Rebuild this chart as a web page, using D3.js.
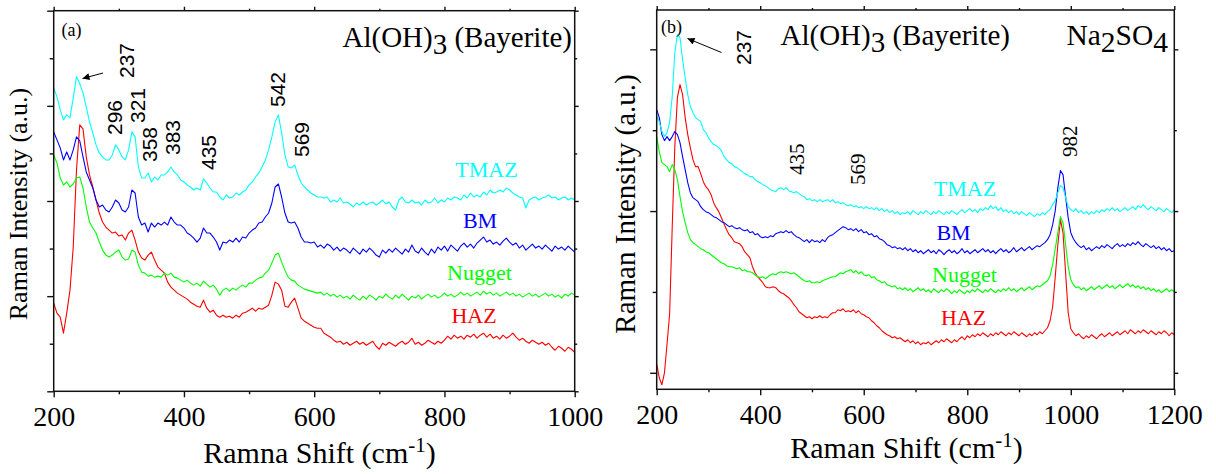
<!DOCTYPE html>
<html>
<head>
<meta charset="utf-8">
<script src="https://cdn.jsdelivr.net/npm/d3@7"></script>
<style>
  html, body { margin: 0; padding: 0; background: #fff; }
  svg { display: block; }
</style>
</head>
<body>
<svg id="chart" width="1216" height="474"></svg>
<script>
// Raman shift sampling grids (cm^-1)
const shiftA = d3.range(200, 1001, 5);
const shiftB = d3.range(200, 1201, 5);

// Panel (a): Al(OH)3 bayerite spectra, offset-stacked intensities (a.u.)
const tmazA = [
  303, 294, 281, 271, 276, 273, 293, 314, 307, 298,
  284, 269, 258, 246, 238, 234, 231, 231, 236, 246,
  241, 234, 231, 241, 259, 254, 224, 213, 213, 218,
  209, 214, 211, 216, 216, 219, 224, 219, 216, 211,
  209, 206, 204, 201, 203, 201, 212, 208, 203, 199,
  199, 194, 191, 196, 193, 194, 198, 196, 199, 201,
  206, 209, 214, 218, 224, 231, 241, 254, 269, 276,
  258, 236, 224, 223, 226, 216, 208, 204, 201, 198,
  196, 194,
  194, 193, 194, 189, 191, 189, 193, 188, 189, 187,
  184, 188, 186, 189, 186, 188, 189, 186, 188, 191,
  187, 189, 184, 181, 191, 194, 189, 188, 191, 188,
  189, 186, 191, 188, 189, 193, 188, 191, 189, 193,
  191, 194, 193, 191, 196, 193, 198, 194, 196, 194,
  199, 196, 201, 198, 199, 201, 199, 203, 201, 198,
  196, 194, 193, 183, 191, 193, 194, 191, 193, 194,
  196, 193, 194, 191, 193, 194, 191, 193, 191
];
const bmA = [
  259, 251, 243, 231, 239, 231, 241, 254, 250, 234,
  219, 211, 203, 191, 184, 186, 181, 179, 184, 191,
  188, 181, 179, 184, 201, 198, 174, 166, 168, 159,
  168, 164, 168, 166, 169, 166, 174, 169, 166, 166,
  163, 158, 156, 153, 149, 153, 163, 158, 158, 154,
  149, 141, 149, 148, 151, 149, 153, 149, 154, 153,
  158, 161, 163, 168, 169, 174, 178, 188, 204, 207,
  194, 178, 169, 168, 169, 163, 154, 149, 149, 148,
  149, 144,
  146, 143, 147, 145, 141, 144, 140, 143, 141, 138,
  143, 140, 137, 142, 139, 143, 140, 136, 134, 141,
  138, 142, 139, 143, 140, 137, 142, 139, 146, 140,
  138, 143, 139, 136, 142, 138, 144, 141, 145, 140,
  146, 143, 140, 145, 148, 144, 147, 143, 148, 151,
  154, 149, 151, 147, 149, 146, 150, 153, 149, 146,
  148, 143, 146, 141, 144, 147, 143, 145, 142, 146,
  143, 140, 145, 142, 144, 141, 145, 142, 139
];
const nuggetA = [
  236, 228, 213, 206, 209, 204, 207, 213, 214, 203,
  184, 169, 163, 158, 149, 141, 136, 134, 136, 139,
  141, 134, 131, 132, 141, 139, 126, 119, 118, 115,
  116, 114, 115, 114, 118, 116, 118, 114, 113, 111,
  109, 111, 108, 106, 108, 105, 110, 107, 104, 106,
  102, 96, 101, 103, 100, 103, 101, 104, 106, 104,
  108, 108, 111, 113, 114, 118, 121, 128, 136, 138,
  129, 121, 114, 111, 110, 106, 104, 102, 101, 100,
  99, 98,
  99, 96, 98, 95, 97, 94, 96, 93, 95, 92,
  96, 93, 91, 95, 92, 96, 94, 91, 95, 93,
  97, 94, 92, 96, 93, 97, 94, 91, 95, 93,
  96, 92, 95, 97, 94, 96, 93, 95, 98, 95,
  97, 94, 96, 99, 96, 98, 95, 97, 99, 96,
  100, 97, 99, 96, 98, 95, 97, 99, 96, 98,
  95, 97, 94, 96, 98, 95, 97, 94, 96, 98,
  95, 97, 94, 96, 93, 97, 95, 98, 96
];
const hazA = [
  88, 78, 74, 58, 78, 101, 144, 221, 266, 262,
  234, 216, 204, 191, 178, 169, 164, 161, 158, 159,
  155, 156, 151, 158, 161, 151, 139, 133, 131, 136,
  139, 131, 124, 121, 118, 109, 104, 101, 98, 96,
  94, 92, 89, 87, 85, 84, 91, 83, 79, 81,
  76, 74, 76, 74, 75, 73, 76, 74, 78, 79,
  81, 83, 80, 83, 82, 84, 86, 96, 109, 107,
  101, 85, 84, 89, 93, 83, 73, 70, 68, 66,
  64, 63,
  63, 58, 56, 54, 51, 49, 50, 47, 49, 46,
  48, 50, 47, 49, 46, 48, 50, 45, 42, 48,
  46, 49, 47, 45, 48, 50, 47, 49, 53, 47,
  49, 46, 48, 51, 49, 47, 50, 48, 51, 55,
  52, 56, 53, 55, 52, 56, 54, 57, 53, 56,
  58, 54, 57, 53, 55, 52, 56, 53, 55, 58,
  54, 51, 53, 50, 48, 51, 49, 47, 49, 46,
  48, 44, 41, 45, 43, 40, 44, 42, 39
];

// Panel (b): Al(OH)3 bayerite + Na2SO4 spectra, offset-stacked intensities (a.u.)
const tmazB = [
  256, 251, 241, 236, 240, 250, 276, 320, 338, 335,
  313, 295, 278, 266, 260, 255, 253, 251, 243, 240,
  235, 231, 228, 227, 225, 222, 216, 213, 210, 209,
  206, 205, 203, 201, 199, 198, 196, 196, 193, 191,
  190, 188, 187, 185, 183, 182, 181, 184, 185, 183,
  185, 182, 181, 180, 181, 179, 177, 176, 173, 174,
  172, 173, 171, 173, 171, 172, 173, 171, 173, 170,
  171, 169, 170, 168, 167,
  168, 166, 167, 165, 166,
  164, 166, 164, 165, 163, 165, 162, 164, 161, 163,
  160, 162, 159, 161, 158, 160, 159, 161, 158, 162,
  160, 158, 161, 159, 162, 160, 158, 161, 159, 162,
  160, 158, 161, 159, 162, 160, 158, 161, 163, 160,
  162, 164, 161, 163, 160, 164, 162, 165, 163, 167,
  164, 166, 162, 165, 161, 163, 160, 162, 159, 161,
  158, 161, 159, 157, 160, 158, 156, 159, 157, 160,
  158, 161, 163, 168, 172, 180, 187, 185, 175, 166,
  163, 161, 164, 160, 162, 159, 161, 158, 161, 159,
  162, 160, 163, 161, 164, 162, 165, 162, 164, 161,
  163, 165, 162, 164, 166, 163, 167, 165, 168, 165,
  163, 166, 164, 162, 165, 163, 161, 164, 162, 160,
  163
];
const bmB = [
  263, 255, 238, 232, 236, 232, 236, 241, 238, 230,
  216, 203, 190, 180, 175, 173, 171, 166, 163, 161,
  160, 158, 156, 155, 153, 151, 150, 148, 146, 147,
  145, 144, 145, 143, 142, 143, 140, 141, 138, 139,
  136, 135, 136, 135, 137, 136, 139, 140, 141, 140,
  142, 140, 141, 138, 136, 135, 133, 131, 133, 130,
  133, 131, 132, 130, 133, 131, 135, 137, 138, 140,
  142, 144, 146, 145, 143,
  144, 142, 144, 141, 143,
  140, 141, 138, 139, 136, 137, 134, 133, 131, 128,
  127, 125, 126, 124, 125, 123, 125, 122, 124, 121,
  123, 120, 122, 119, 121, 123, 120, 122, 119, 123,
  121, 118, 121, 123, 120, 122, 119, 121, 124, 120,
  122, 119, 121, 123, 120, 122, 124, 121, 123, 120,
  122, 119, 122, 124, 121, 123, 120, 122, 125, 121,
  123, 125, 122, 124, 126, 123, 125, 127, 126, 128,
  130, 133, 138, 148, 162, 185, 202, 198, 176, 155,
  140, 134, 130, 127, 125, 127, 123, 125, 122, 124,
  126, 124, 127, 125, 128, 126, 124, 127, 129, 126,
  128, 126, 129, 127, 130, 128, 131, 128, 126, 129,
  127, 125, 127, 124, 126, 123, 125, 122, 124, 121,
  122
];
const nuggetB = [
  236, 221, 210, 208, 206, 201, 208, 203, 193, 176,
  161, 150, 140, 133, 130, 128, 126, 124, 123, 121,
  120, 118, 116, 114, 112, 110, 109, 107, 106, 106,
  105, 104, 105, 102, 103, 101, 101, 100, 98, 96,
  95, 96, 94, 96, 98, 99, 98, 100, 101, 100,
  101, 100, 99, 100, 98, 96, 94, 92, 91, 92,
  90, 90, 91, 90, 92, 93, 94, 95, 96, 96,
  98, 100, 99, 101, 102,
  103, 100, 102, 99, 101,
  98, 97, 98, 95, 96, 93, 92, 90, 91, 88,
  87, 86, 87, 84, 85, 83, 85, 82, 84, 81,
  83, 85, 82, 84, 81, 83, 80, 84, 82, 80,
  83, 81, 84, 82, 79, 82, 80, 83, 81, 79,
  82, 80, 83, 81, 84, 82, 80, 83, 81, 84,
  82, 80, 83, 81, 84, 82, 85, 82, 84, 81,
  83, 85, 82, 84, 86, 83, 85, 87, 86, 88,
  90, 92, 97, 108, 124, 140, 156, 150, 128, 106,
  93, 88, 85, 86, 83, 85, 82, 84, 86, 83,
  85, 87, 84, 86, 88, 85, 87, 84, 86, 88,
  85, 87, 89, 86, 88, 85, 87, 84, 86, 83,
  85, 82, 84, 81, 83, 80, 82, 84, 81, 83,
  81
];
const hazB = [
  9, -5, -12, 0, 29, 59, 146, 226, 275, 288,
  278, 255, 238, 225, 213, 206, 206, 199, 191, 186,
  183, 178, 170, 165, 161, 155, 149, 143, 138, 135,
  131, 130, 129, 126, 121, 118, 115, 106, 100, 96,
  93, 90, 86, 85, 85, 86, 85, 82, 80, 79,
  77, 75, 72, 68, 65, 61, 59, 57, 55, 56,
  54, 56, 55, 57, 55, 56, 55, 58, 60, 60,
  63, 62, 64, 61, 62,
  61, 63, 60, 62, 59,
  58, 56, 55, 52, 50, 47, 45, 42, 40, 38,
  37, 35, 36, 34, 35, 33, 31, 33, 30, 32,
  29, 31, 28, 30, 29, 31, 28, 30, 32, 30,
  33, 31, 34, 32, 30, 33, 31, 34, 36, 33,
  37, 35, 38, 36, 39, 37, 40, 38, 36, 39,
  37, 40, 38, 41, 39, 37, 40, 38, 41, 39,
  37, 40, 38, 36, 39, 37, 40, 38, 41, 39,
  42, 45, 52, 66, 96, 128, 153, 140, 100, 60,
  44, 40, 37, 39, 36, 34, 37, 35, 38, 36,
  34, 37, 39, 36, 38, 40, 37, 39, 41, 38,
  40, 42, 39, 43, 41, 39, 42, 40, 43, 41,
  39, 42, 40, 38, 41, 39, 42, 40, 37, 40,
  38
];

// Sample names and the colour used for each trace
const sampleNames = ["TMAZ", "BM", "Nugget", "HAZ"];
const sampleColors = ["#00ffff", "#0000ff", "#00ff00", "#ff0000"];

// Axis ticks
const xMajorA = [200, 400, 600, 800, 1000];
const xMinorA = [300, 500, 700, 900];
const xMajorB = [200, 400, 600, 800, 1000, 1200];
const xMinorB = [300, 500, 700, 900, 1100];

// Peak assignments (cm^-1) written above the traces
const peaksA = ["237", "296", "321", "358", "383", "435", "542", "569"];
const peaksB = ["237", "435", "569", "982"];

const serif = "'Liberation Serif', 'Times New Roman', serif";
const sans = "'Liberation Sans', Arial, sans-serif";

const svg = d3.select("#chart");

svg.append("defs").append("marker")
  .attr("id", "arrowhead")
  .attr("viewBox", "0 0 10 10")
  .attr("refX", 10).attr("refY", 5)
  .attr("markerWidth", 9).attr("markerHeight", 7)
  .attr("markerUnits", "userSpaceOnUse")
  .attr("orient", "auto")
  .append("path").attr("d", "M0,0 L10,5 L0,10 Z").attr("fill", "#000");

const panels = [
  {
    shift: shiftA, series: [tmazA, bmA, nuggetA, hazA],
    x: d3.scaleLinear().domain([200, 1000]).range([53.7, 574.7]),
    y: d3.scaleLinear().domain([0, 380]).range([391.3, 10.7]),
    yTicks: d3.range(0, 381, 47.5),
    xMajor: xMajorA, xMinor: xMinorA
  },
  {
    shift: shiftB, series: [tmazB, bmB, nuggetB, hazB],
    x: d3.scaleLinear().domain([200, 1200]).range([656.7, 1174.3]),
    y: d3.scaleLinear().domain([-16.5, 362.5]).range([389.3, 10]),
    yTicks: d3.range(0, 362, 80.8),
    xMajor: xMajorB, xMinor: xMinorB
  }
];

panels.forEach(p => {
  const [x0, x1] = p.x.range();
  const [y0, y1] = p.y.range();
  const g = svg.append("g");

  // clip traces to the plot frame
  const clipId = "clip" + Math.round(x0);
  svg.select("defs").append("clipPath").attr("id", clipId)
    .append("rect").attr("x", x0).attr("y", y1).attr("width", x1 - x0).attr("height", y0 - y1);

  const line = d3.line().x((d, i) => p.x(p.shift[i])).y(d => p.y(d));
  const traces = g.append("g").attr("clip-path", `url(#${clipId})`);
  // draw bottom trace first so the upper ones sit on top
  p.series.slice().reverse().forEach((s, k) => {
    const idx = p.series.length - 1 - k;
    traces.append("path")
      .attr("d", line(s))
      .attr("fill", "none")
      .attr("stroke", sampleColors[idx])
      .attr("stroke-width", 1.1)
      .attr("stroke-linejoin", "round");
  });

  // bottom axis with labels
  const bottom = g.append("g").attr("transform", `translate(0,${y0})`);
  bottom.call(d3.axisBottom(p.x).tickValues(p.xMajor).tickSize(6).tickFormat(d3.format("d")))
    .call(a => a.select(".domain").remove());
  bottom.append("g").call(d3.axisBottom(p.x).tickValues(p.xMinor).tickSize(3).tickFormat(""))
    .call(a => a.select(".domain").remove());
  bottom.selectAll("text")
    .attr("font-family", serif).attr("font-size", 28).attr("fill", "#000")
    .attr("dy", null).attr("y", 35);

  // top mirror ticks
  const top = g.append("g").attr("transform", `translate(0,${y1})`);
  top.call(d3.axisTop(p.x).tickValues(p.xMajor).tickSize(4).tickFormat(""))
    .call(a => a.select(".domain").remove());
  top.append("g").call(d3.axisTop(p.x).tickValues(p.xMinor).tickSize(2).tickFormat(""))
    .call(a => a.select(".domain").remove());

  // left and right unlabelled intensity ticks (alternating long/short)
  const yMajor = p.yTicks.filter((d, i) => i % 2 === 0);
  const yMinor = p.yTicks.filter((d, i) => i % 2 === 1);
  const left = g.append("g").attr("transform", `translate(${x0},0)`);
  left.call(d3.axisLeft(p.y).tickValues(yMajor).tickSize(6.5).tickFormat(""))
    .call(a => a.select(".domain").remove());
  left.append("g").call(d3.axisLeft(p.y).tickValues(yMinor).tickSize(4).tickFormat(""))
    .call(a => a.select(".domain").remove());
  const right = g.append("g").attr("transform", `translate(${x1},0)`);
  right.call(d3.axisRight(p.y).tickValues(yMajor).tickSize(4).tickFormat(""))
    .call(a => a.select(".domain").remove());
  right.append("g").call(d3.axisRight(p.y).tickValues(yMinor).tickSize(2.5).tickFormat(""))
    .call(a => a.select(".domain").remove());

  g.selectAll(".tick line").attr("stroke", "#111").attr("stroke-width", 1.4);

  // plot frame
  g.append("rect")
    .attr("x", x0).attr("y", y1).attr("width", x1 - x0).attr("height", y0 - y1)
    .attr("fill", "none").attr("stroke", "#111").attr("stroke-width", 1.5);
});

// ---- text helpers ----
function label(x, y, text, opts = {}) {
  return svg.append("text")
    .attr("x", x).attr("y", y)
    .attr("font-family", opts.family || serif)
    .attr("font-size", opts.size || 22)
    .attr("fill", opts.color || "#000")
    .attr("text-anchor", opts.anchor || "start")
    .text(text);
}
function vlabel(x, y, text, opts = {}) {
  return svg.append("text")
    .attr("transform", `translate(${x},${y}) rotate(-90)`)
    .attr("font-family", opts.family || sans)
    .attr("font-size", opts.size || 21)
    .attr("fill", opts.color || "#000")
    .attr("text-anchor", opts.anchor || "start")
    .text(text);
}
function formula(sel, parts, drop) {
  // parts: [text, isSubscript]
  let shifted = 0;
  parts.forEach(([t, sub]) => {
    const want = sub ? drop : 0;
    sel.append("tspan").attr("dy", want - shifted).text(t);
    shifted = want;
  });
  return sel;
}
function titleText(x, y, anchor, size, parts) {
  const t = svg.append("text").attr("x", x).attr("y", y)
    .attr("font-family", serif).attr("font-size", size)
    .attr("text-anchor", anchor).attr("fill", "#000");
  return formula(t, parts, 7);
}

// ---- panel (a) annotations ----
label(61.5, 36, "(a)", { size: 18 });
titleText(572, 47, "end", 29, [["Al(OH)", false], ["3", true], [" (Bayerite)", false]]);

const pA = panels[0];
const peakPosA = [[134, 78], [121.5, 135], [145, 123], [157, 162], [180, 155], [215.5, 170], [285, 107], [309, 157]];
peaksA.forEach((t, i) => vlabel(peakPosA[i][0], peakPosA[i][1], t));
svg.append("line").attr("x1", 103).attr("y1", 73).attr("x2", 82.5).attr("y2", 78.5)
  .attr("stroke", "#000").attr("stroke-width", 1).attr("marker-end", "url(#arrowhead)");

const nameA = [[486.5, 177], [480, 228], [479.5, 280], [474, 323]];
sampleNames.forEach((n, i) => label(nameA[i][0], nameA[i][1], n, { color: sampleColors[i], anchor: "middle" }));

// ---- panel (b) annotations ----
label(661, 33, "(b)", { size: 18 });
titleText(780.5, 45, "start", 29, [["Al(OH)", false], ["3", true], [" (Bayerite)", false]]);
titleText(1168, 45, "end", 29.5, [["Na", false], ["2", true], ["SO", false], ["4", true]]);

vlabel(750.5, 65, peaksB[0]);
const peakPosB = [[804, 175], [865, 185], [1077, 157]];
peaksB.slice(1).forEach((t, i) => vlabel(peakPosB[i][0], peakPosB[i][1], t, { family: serif }));
svg.append("line").attr("x1", 721.5).attr("y1", 52.5).attr("x2", 687.5).attr("y2", 38.5)
  .attr("stroke", "#000").attr("stroke-width", 1).attr("marker-end", "url(#arrowhead)");

const nameB = [[965, 196], [953.5, 240], [964.5, 282], [963.5, 325]];
sampleNames.forEach((n, i) => label(nameB[i][0], nameB[i][1], n, { color: sampleColors[i], anchor: "middle" }));

// ---- axis titles ----
function shiftTitle(cx, y, words) {
  const t = svg.append("text").attr("x", cx).attr("y", y)
    .attr("font-family", serif).attr("font-size", 30)
    .attr("text-anchor", "middle").attr("fill", "#000");
  t.append("tspan").text(words + " (cm");
  t.append("tspan").attr("dy", -11).attr("font-size", 21).text("-1");
  t.append("tspan").attr("dy", 11).text(")");
}
shiftTitle(319.5, 463, "Ramna Shift");
shiftTitle(906.5, 458, "Raman Shift");

vlabel(27, 204, "Raman Intensity (a.u.)", { family: serif, size: 26, anchor: "middle" });
vlabel(635, 204, "Raman Intensity (a.u.)", { family: serif, size: 29, anchor: "middle" });
</script>
</body>
</html>
